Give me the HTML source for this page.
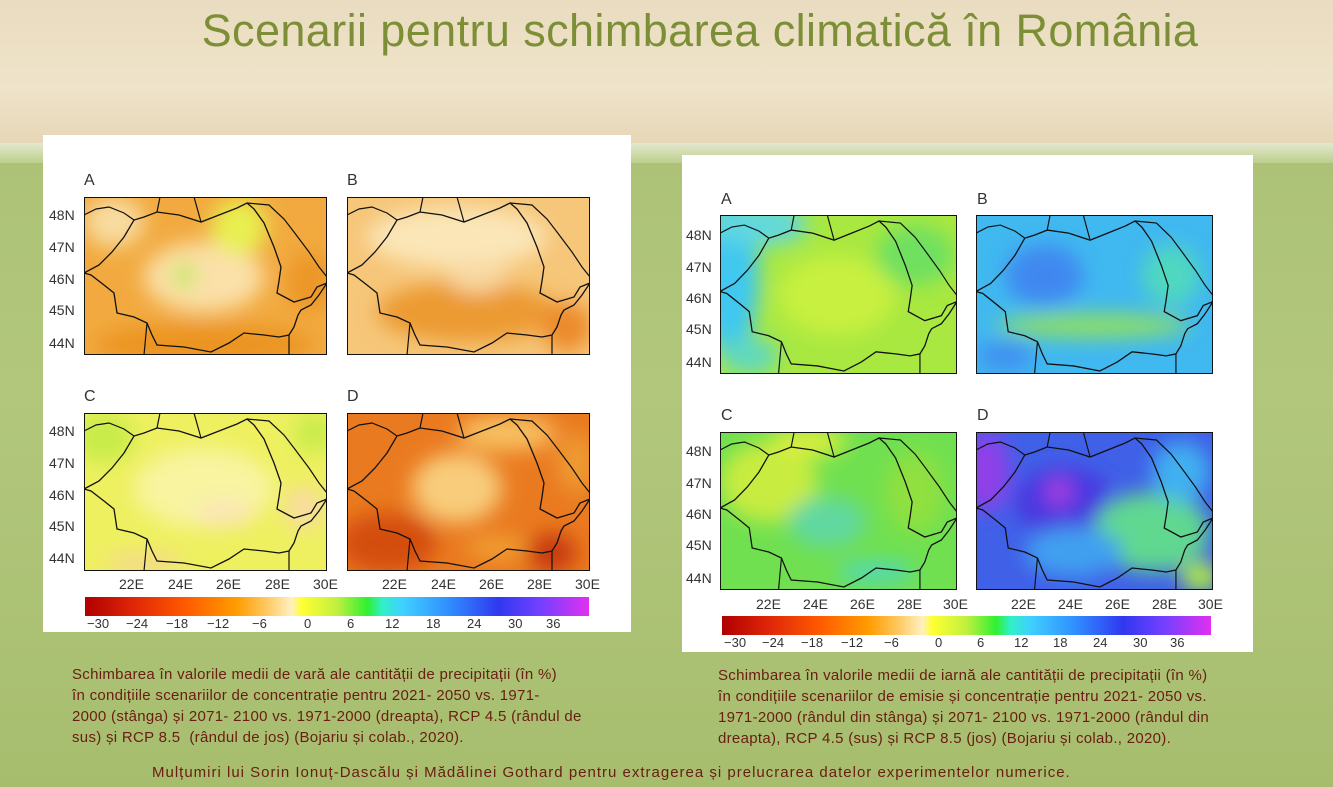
<!DOCTYPE html>
<html><head><meta charset="utf-8">
<style>
*{margin:0;padding:0;box-sizing:border-box}
body{width:1333px;height:787px;overflow:hidden;position:relative;font-family:"Liberation Sans",sans-serif;
background:linear-gradient(180deg,#a9bf72 0%,#b2c77c 50%,#a7bd6e 100%)}
.top{position:absolute;left:0;top:0;width:1333px;height:146px;background:linear-gradient(180deg,#e9dcc0 0%,#efe3c9 60%,#e6d6b6 100%)}
.strip{position:absolute;left:0;top:143px;width:1333px;height:20px;background:linear-gradient(180deg,#e4e8cf,#bccf8c)}
.title{position:absolute;left:0;width:1400px;top:5px;text-align:center;font-size:45px;color:#7d8f36;letter-spacing:0.4px}
.panel{position:absolute;background:#fff}
.t{position:absolute;font-size:14px;color:#333;white-space:nowrap}
.cap{position:absolute;font-size:15px;letter-spacing:0.3px;color:#6a1d12;line-height:21px;white-space:nowrap}
svg{position:absolute}
</style></head><body>
<div class="top"></div><div class="strip"></div>
<div class="title">Scenarii pentru schimbarea climatică în România</div>
<div class="panel" style="left:43px;top:135px;width:588px;height:497px"></div>
<div class="panel" style="left:682px;top:155px;width:571px;height:497px"></div>

<svg width="0" height="0" style="position:absolute">
<defs>
<filter id="bl" x="-30%" y="-30%" width="160%" height="160%"><feGaussianBlur stdDeviation="10"/></filter>
<symbol id="ro" viewBox="0 0 243 158" preserveAspectRatio="none">
<path d="M0,76 L7,78 20,88 30,96 33,116 50,120 63,126 68,138 73,148 100,150 127,155 145,146 160,136 180,138 195,140 205,138 210,130 214,118 217,113 227,108 235,98 243,86 233,90 227,100 210,105 193,96 195,84 197,70 190,50 180,26 170,12 163,6 153,11 135,18 117,25 95,18 73,15 60,20 50,23 40,40 28,55 15,68 Z" fill="none" stroke="#111" stroke-width="1.3"/>
<path d="M163,6 L185,8 200,22 210,35 225,55 235,70 243,80" fill="none" stroke="#111" stroke-width="1.2"/>
<path d="M0,18 L12,12 25,10 40,16 50,23 M73,15 L76,0 M63,126 L60,158 M205,138 L205,158 M110,0 L117,25" fill="none" stroke="#111" stroke-width="1.2"/>
</symbol>
<linearGradient id="cb" x1="0" x2="1" y1="0" y2="0">
<stop offset="0" stop-color="#b00000"/><stop offset="0.1" stop-color="#e02808"/><stop offset="0.2" stop-color="#ff5a00"/>
<stop offset="0.3" stop-color="#ff9c00"/><stop offset="0.36" stop-color="#ffc860"/><stop offset="0.41" stop-color="#fff0c0"/>
<stop offset="0.43" stop-color="#ffff30"/><stop offset="0.5" stop-color="#c0f040"/><stop offset="0.56" stop-color="#30f030"/>
<stop offset="0.59" stop-color="#30f0c8"/><stop offset="0.63" stop-color="#40d0ff"/><stop offset="0.72" stop-color="#3090ff"/>
<stop offset="0.82" stop-color="#3038f0"/><stop offset="0.9" stop-color="#7040ff"/><stop offset="1" stop-color="#e030f0"/>
</linearGradient>
</defs></svg>

<!-- LEFT MAPS -->
<svg style="left:84px;top:197px" width="243" height="158" viewBox="0 0 243 158">
<rect width="243" height="158" fill="#f2aa40"/>
<g filter="url(#bl)">
<ellipse cx="120" cy="80" rx="60" ry="35" fill="#fbe0a8"/>
<ellipse cx="155" cy="30" rx="28" ry="28" fill="#e8f050"/>
<ellipse cx="100" cy="78" rx="12" ry="14" fill="#c8e860"/>
<ellipse cx="120" cy="148" rx="110" ry="22" fill="#eb9424"/>
<ellipse cx="225" cy="85" rx="22" ry="30" fill="#ec9628"/>
<ellipse cx="30" cy="25" rx="30" ry="25" fill="#f8dca0"/>
</g>
<use href="#ro" width="243" height="158"/>
<rect x="0.5" y="0.5" width="242" height="157" fill="none" stroke="#111"/>
</svg>
<svg style="left:347px;top:197px" width="243" height="158" viewBox="0 0 243 158">
<rect width="243" height="158" fill="#f6c679"/>
<g filter="url(#bl)">
<ellipse cx="110" cy="40" rx="90" ry="30" fill="#fbe6b8"/>
<ellipse cx="120" cy="115" rx="90" ry="30" fill="#ec9a30"/>
<ellipse cx="220" cy="130" rx="25" ry="25" fill="#ec8a2a"/>
<ellipse cx="130" cy="80" rx="30" ry="16" fill="#f8d8a0"/>
</g>
<use href="#ro" width="243" height="158"/>
<rect x="0.5" y="0.5" width="242" height="157" fill="none" stroke="#111"/>
</svg>
<svg style="left:84px;top:413px" width="243" height="158" viewBox="0 0 243 158">
<rect width="243" height="158" fill="#eef060"/>
<g filter="url(#bl)">
<ellipse cx="20" cy="25" rx="30" ry="25" fill="#c8ec48"/>
<ellipse cx="120" cy="75" rx="70" ry="40" fill="#f8f4a0"/>
<ellipse cx="140" cy="100" rx="30" ry="14" fill="#fbe6b8"/>
<ellipse cx="220" cy="95" rx="20" ry="22" fill="#f8dca0"/>
<ellipse cx="230" cy="20" rx="20" ry="20" fill="#c8ec48"/>
<ellipse cx="60" cy="150" rx="40" ry="10" fill="#f6d890"/>
</g>
<use href="#ro" width="243" height="158"/>
<rect x="0.5" y="0.5" width="242" height="157" fill="none" stroke="#111"/>
</svg>
<svg style="left:347px;top:413px" width="243" height="158" viewBox="0 0 243 158">
<rect width="243" height="158" fill="#ea7a20"/>
<g filter="url(#bl)">
<ellipse cx="110" cy="75" rx="45" ry="35" fill="#f8cc7a"/>
<ellipse cx="160" cy="20" rx="50" ry="18" fill="#f7c060"/>
<ellipse cx="40" cy="130" rx="50" ry="30" fill="#d44e10"/>
<ellipse cx="205" cy="140" rx="25" ry="20" fill="#c83a08"/>
<ellipse cx="150" cy="135" rx="30" ry="12" fill="#f0a030"/>
<ellipse cx="230" cy="50" rx="20" ry="30" fill="#ee9a30"/>
</g>
<use href="#ro" width="243" height="158"/>
<rect x="0.5" y="0.5" width="242" height="157" fill="none" stroke="#111"/>
</svg>

<!-- RIGHT MAPS -->
<svg style="left:720px;top:215px" width="237" height="159" viewBox="0 0 243 158" preserveAspectRatio="none">
<rect width="243" height="158" fill="#a8e840"/>
<g filter="url(#bl)">
<ellipse cx="10" cy="60" rx="30" ry="80" fill="#40c8f0"/>
<ellipse cx="40" cy="10" rx="50" ry="20" fill="#60d8e0"/>
<ellipse cx="120" cy="80" rx="60" ry="40" fill="#c8f040"/>
<ellipse cx="200" cy="40" rx="40" ry="30" fill="#70e060"/>
<ellipse cx="30" cy="140" rx="30" ry="18" fill="#60d8c0"/>
</g>
<use href="#ro" width="243" height="158"/>
<rect x="0.5" y="0.5" width="242" height="157" fill="none" stroke="#111"/>
</svg>
<svg style="left:976px;top:215px" width="237" height="159" viewBox="0 0 243 158" preserveAspectRatio="none">
<rect width="243" height="158" fill="#40b8f0"/>
<g filter="url(#bl)">
<ellipse cx="70" cy="60" rx="40" ry="30" fill="#4088f0"/>
<ellipse cx="120" cy="110" rx="100" ry="12" fill="#90e060"/>
<ellipse cx="200" cy="60" rx="30" ry="30" fill="#50d8c0"/>
<ellipse cx="30" cy="140" rx="30" ry="15" fill="#4090f0"/>
</g>
<use href="#ro" width="243" height="158"/>
<rect x="0.5" y="0.5" width="242" height="157" fill="none" stroke="#111"/>
</svg>
<svg style="left:720px;top:432px" width="237" height="158" viewBox="0 0 243 158" preserveAspectRatio="none">
<rect width="243" height="158" fill="#70e050"/>
<g filter="url(#bl)">
<ellipse cx="50" cy="50" rx="50" ry="40" fill="#c8ec40"/>
<ellipse cx="90" cy="10" rx="40" ry="15" fill="#d8ee40"/>
<ellipse cx="110" cy="90" rx="40" ry="25" fill="#60d8a0"/>
<ellipse cx="160" cy="140" rx="40" ry="10" fill="#50d8c0"/>
<ellipse cx="200" cy="60" rx="30" ry="40" fill="#90e040"/>
</g>
<use href="#ro" width="243" height="158"/>
<rect x="0.5" y="0.5" width="242" height="157" fill="none" stroke="#111"/>
</svg>
<svg style="left:976px;top:432px" width="237" height="158" viewBox="0 0 243 158" preserveAspectRatio="none">
<rect width="243" height="158" fill="#4060e8"/>
<g filter="url(#bl)">
<ellipse cx="10" cy="40" rx="25" ry="40" fill="#9040e8"/>
<ellipse cx="90" cy="70" rx="50" ry="35" fill="#4a38e0"/>
<ellipse cx="85" cy="60" rx="15" ry="15" fill="#a040e0"/>
<ellipse cx="180" cy="100" rx="60" ry="40" fill="#60d890"/>
<ellipse cx="210" cy="40" rx="30" ry="30" fill="#40b0f0"/>
<ellipse cx="100" cy="120" rx="50" ry="25" fill="#40a0f0"/>
<ellipse cx="230" cy="145" rx="20" ry="15" fill="#b0ec40"/>
</g>
<use href="#ro" width="243" height="158"/>
<rect x="0.5" y="0.5" width="242" height="157" fill="none" stroke="#111"/>
</svg>

<!-- panel letters -->
<div class="t" style="left:84px;top:172px;font-size:16px">A</div>
<div class="t" style="left:347px;top:172px;font-size:16px">B</div>
<div class="t" style="left:84px;top:388px;font-size:16px">C</div>
<div class="t" style="left:347px;top:388px;font-size:16px">D</div>
<div class="t" style="left:721px;top:191px;font-size:16px">A</div>
<div class="t" style="left:977px;top:191px;font-size:16px">B</div>
<div class="t" style="left:721px;top:407px;font-size:16px">C</div>
<div class="t" style="left:977px;top:407px;font-size:16px">D</div>

<!-- lat labels left -->
<div class="t" style="left:49px;top:207px">48N</div><div class="t" style="left:49px;top:239px">47N</div>
<div class="t" style="left:49px;top:271px">46N</div><div class="t" style="left:49px;top:302px">45N</div>
<div class="t" style="left:49px;top:335px">44N</div>
<div class="t" style="left:49px;top:423px">48N</div><div class="t" style="left:49px;top:455px">47N</div>
<div class="t" style="left:49px;top:487px">46N</div><div class="t" style="left:49px;top:518px">45N</div>
<div class="t" style="left:49px;top:550px">44N</div>
<!-- lat labels right -->
<div class="t" style="left:686px;top:227px">48N</div><div class="t" style="left:686px;top:259px">47N</div>
<div class="t" style="left:686px;top:290px">46N</div><div class="t" style="left:686px;top:321px">45N</div>
<div class="t" style="left:686px;top:354px">44N</div>
<div class="t" style="left:686px;top:443px">48N</div><div class="t" style="left:686px;top:475px">47N</div>
<div class="t" style="left:686px;top:506px">46N</div><div class="t" style="left:686px;top:537px">45N</div>
<div class="t" style="left:686px;top:570px">44N</div>

<!-- lon labels -->
<div class="t" style="left:119px;top:576px">22E</div><div class="t" style="left:168px;top:576px">24E</div>
<div class="t" style="left:216px;top:576px">26E</div><div class="t" style="left:265px;top:576px">28E</div>
<div class="t" style="left:313px;top:576px">30E</div>
<div class="t" style="left:382px;top:576px">22E</div><div class="t" style="left:431px;top:576px">24E</div>
<div class="t" style="left:479px;top:576px">26E</div><div class="t" style="left:527px;top:576px">28E</div>
<div class="t" style="left:575px;top:576px">30E</div>
<div class="t" style="left:756px;top:596px">22E</div><div class="t" style="left:803px;top:596px">24E</div>
<div class="t" style="left:850px;top:596px">26E</div><div class="t" style="left:897px;top:596px">28E</div>
<div class="t" style="left:943px;top:596px">30E</div>
<div class="t" style="left:1011px;top:596px">22E</div><div class="t" style="left:1058px;top:596px">24E</div>
<div class="t" style="left:1105px;top:596px">26E</div><div class="t" style="left:1152px;top:596px">28E</div>
<div class="t" style="left:1198px;top:596px">30E</div>

<!-- colorbars -->
<svg style="left:85px;top:597px" width="504" height="19"><rect width="504" height="19" fill="url(#cb)"/></svg>
<svg style="left:722px;top:616px" width="489" height="19"><rect width="489" height="19" fill="url(#cb)"/></svg>
<div class="t" style="left:87px;top:616px;font-size:13px">−30</div>
<div class="t" style="left:126px;top:616px;font-size:13px">−24</div>
<div class="t" style="left:166px;top:616px;font-size:13px">−18</div>
<div class="t" style="left:207px;top:616px;font-size:13px">−12</div>
<div class="t" style="left:252px;top:616px;font-size:13px">−6</div>
<div class="t" style="left:304px;top:616px;font-size:13px">0</div>
<div class="t" style="left:347px;top:616px;font-size:13px">6</div>
<div class="t" style="left:385px;top:616px;font-size:13px">12</div>
<div class="t" style="left:426px;top:616px;font-size:13px">18</div>
<div class="t" style="left:467px;top:616px;font-size:13px">24</div>
<div class="t" style="left:508px;top:616px;font-size:13px">30</div>
<div class="t" style="left:546px;top:616px;font-size:13px">36</div>

<div class="t" style="left:724px;top:635px;font-size:13px">−30</div>
<div class="t" style="left:762px;top:635px;font-size:13px">−24</div>
<div class="t" style="left:801px;top:635px;font-size:13px">−18</div>
<div class="t" style="left:841px;top:635px;font-size:13px">−12</div>
<div class="t" style="left:884px;top:635px;font-size:13px">−6</div>
<div class="t" style="left:935px;top:635px;font-size:13px">0</div>
<div class="t" style="left:977px;top:635px;font-size:13px">6</div>
<div class="t" style="left:1014px;top:635px;font-size:13px">12</div>
<div class="t" style="left:1053px;top:635px;font-size:13px">18</div>
<div class="t" style="left:1093px;top:635px;font-size:13px">24</div>
<div class="t" style="left:1133px;top:635px;font-size:13px">30</div>
<div class="t" style="left:1170px;top:635px;font-size:13px">36</div>

<div class="cap" style="left:72px;top:664px">Schimbarea în valorile medii de vară ale cantității de precipitații (în %)<br>în condițiile scenariilor de concentrație pentru 2021- 2050 vs. 1971-<br>2000 (stânga) și 2071- 2100 vs. 1971-2000 (dreapta), RCP 4.5 (rândul de<br>sus) și RCP 8.5&nbsp; (rândul de jos) (Bojariu și colab., 2020).</div>
<div class="cap" style="left:718px;top:665px">Schimbarea în valorile medii de iarnă ale cantității de precipitații (în %)<br>în condițiile scenariilor de emisie și concentrație pentru 2021- 2050 vs.<br>1971-2000 (rândul din stânga) și 2071- 2100 vs. 1971-2000 (rândul din<br>dreapta), RCP 4.5 (sus) și RCP 8.5 (jos) (Bojariu și colab., 2020).</div>
<div class="cap" style="left:152px;top:762px;letter-spacing:1px">Mulțumiri lui Sorin Ionuț-Dascălu și Mădălinei Gothard pentru extragerea și prelucrarea datelor experimentelor numerice.</div>
</body></html>
